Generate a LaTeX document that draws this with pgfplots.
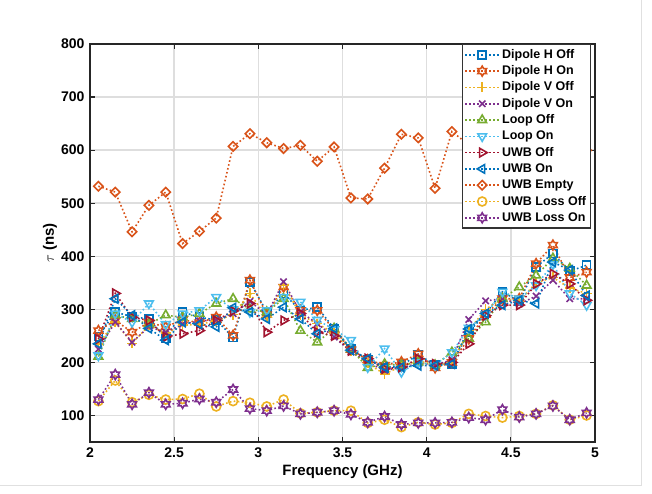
\documentclass[border=0pt]{standalone}
\usepackage{pgfplots}
\pgfplotsset{compat=1.18}
\usepackage{pgfplotstable}
\usepackage{fontspec}
\setmainfont{Liberation Sans}
\usetikzlibrary{plotmarks}

\definecolor{mblue}{HTML}{0072BD}
\definecolor{morange}{HTML}{D95319}
\definecolor{myellow}{HTML}{EDB120}
\definecolor{mpurple}{HTML}{7E2F8E}
\definecolor{mgreen}{HTML}{77AC30}
\definecolor{mcyan}{HTML}{4DBEEE}
\definecolor{mred}{HTML}{A2142F}

\pgfdeclareplotmark{hexagram}{%
  \pgfpathmoveto{\pgfpointpolar{90}{\pgfplotmarksize}}%
  \pgfpathlineto{\pgfpointpolar{120}{0.577\pgfplotmarksize}}%
  \pgfpathlineto{\pgfpointpolar{150}{\pgfplotmarksize}}%
  \pgfpathlineto{\pgfpointpolar{180}{0.577\pgfplotmarksize}}%
  \pgfpathlineto{\pgfpointpolar{210}{\pgfplotmarksize}}%
  \pgfpathlineto{\pgfpointpolar{240}{0.577\pgfplotmarksize}}%
  \pgfpathlineto{\pgfpointpolar{270}{\pgfplotmarksize}}%
  \pgfpathlineto{\pgfpointpolar{300}{0.577\pgfplotmarksize}}%
  \pgfpathlineto{\pgfpointpolar{330}{\pgfplotmarksize}}%
  \pgfpathlineto{\pgfpointpolar{0}{0.577\pgfplotmarksize}}%
  \pgfpathlineto{\pgfpointpolar{30}{\pgfplotmarksize}}%
  \pgfpathlineto{\pgfpointpolar{60}{0.577\pgfplotmarksize}}%
  \pgfpathclose
  \pgfusepathqstroke
}

\pgfplotstableread{
x    dhoff dhon dvoff dvon loff lon uoff uon uemp ulsoff ulson
2.05 249 260 235 225 211 213 244 235 532 127 130
2.15 295 279 276 276 289 292 330 320 521 166 177
2.25 286 257 236 238 282 276 285 289 446 125 121
2.35 282 275 270 267 272 311 279 264 496 139 143
2.45 245 267 255 257 289 272 248 242 521 130 121
2.55 295 280 270 272 285 292 254 276 424 131 123
2.65 285 275 272 278 292 298 260 272 447 141 131
2.75 280 285 278 280 311 323 279 267 472 117 125
2.85 247 251 290 292 320 300 297 303 607 127 149
2.95 352 355 330 315 300 295 311 295 631 124 113
3.05 295 290 285 290 295 298 257 282 614 117 109
3.15 330 342 346 352 320 323 279 304 603 130 118
3.25 298 298 290 295 260 314 292 282 609 104 103
3.35 304 298 273 273 238 280 257 254 579 106 106
3.45 264 262 255 248 264 262 250 264 606 109 109
3.55 226 224 222 220 225 242 222 223 510 109 102
3.65 205 205 198 200 190 191 207 207 508 86 87
3.75 190 195 178 185 197 226 188 191 566 92 98
3.85 195 201 193 190 195 182 191 191 630 78 83
3.95 214 216 203 198 200 200 207 194 623 87 86
4.05 196 190 195 195 195 195 197 194 528 83 86
4.15 197 200 200 205 219 219 200 197 635 86 87
4.25 257 245 260 281 245 265 235 263 610 103 96
4.35 292 290 300 316 276 290 288 292 640 99 92
4.45 333 320 320 320 320 333 308 308 600 96 111
4.55 315 320 315 310 342 320 308 317 620 99 97
4.65 380 386 350 325 364 345 348 311 595 103 103
4.75 405 421 360 355 396 385 367 389 630 119 118
4.85 372 360 340 320 377 330 348 374 610 92 92
4.95 383 370 330 320 345 308 317 326 600 100 105
}\data

\begin{document}
\begin{tikzpicture}
\useasboundingbox (-90pt,-51pt) rectangle (562pt,442pt);
\draw[black!12, line width=1pt] (551pt,442pt) -- (551pt,-43pt) -- (-90pt,-43pt);
\begin{axis}[
  at={(0pt,0pt)}, anchor=south west,
  scale only axis, width=505pt, height=398pt,
  xmin=2, xmax=5, ymin=50, ymax=800,
  xtick={2,2.5,3,3.5,4,4.5,5},
  xticklabels={2,2.5,3,3.5,4,4.5,5},
  ytick={100,200,300,400,500,600,700,800},
  tick align=inside, major tick length=5pt,
  tick style={line width=1.2pt, color=black!85},
  axis line style={line width=1.6pt, color=black!85},
  grid=major, major grid style={line width=1.5pt, color=black!13},
  /pgf/number format/assume math mode=true,
  tick label style={font=\bfseries\fontsize{14}{16}\selectfont},
  xticklabel style={yshift=-2pt},
  yticklabel style={xshift=-2pt},
  xlabel={Frequency (GHz)},
  ylabel={$\tau$ (ns)},
  label style={font=\bfseries\fontsize{15}{18}\selectfont},
  xlabel style={at={(axis description cs:0.5,-0.0754)}, anchor=center},
  ylabel style={at={(axis description cs:-0.079,0.5)}, anchor=center},
  every axis plot/.append style={line width=1.6pt, dash pattern=on 1.6pt off 2.4pt},
  legend style={at={(rel axis cs:0.992,1)}, anchor=north east,
    draw=black!80, line width=1.3pt, fill=white,
    font=\bfseries\fontsize{12.5}{15}\selectfont,
    row sep=0pt, inner xsep=2pt, inner ysep=2pt,
    nodes={text height=9.5pt, text depth=2.5pt, inner sep=2.15pt}},
  legend cell align=left,
  legend image code/.code={\draw[line width=1.6pt, dash pattern=on 1.6pt off 2.4pt, mark repeat=2,mark phase=2] plot coordinates {(0pt,0pt) (17pt,0pt) (34pt,0pt)};},
]
\addplot[mblue, mark=square, mark size=4pt, mark options={solid}] table[x=x,y=dhoff]{\data};
\addlegendentry{Dipole H Off}
\addplot[morange, mark=hexagram, mark size=5pt, mark options={solid}] table[x=x,y=dhon]{\data};
\addlegendentry{Dipole H On}
\addplot[myellow, mark=+, mark size=5pt, mark options={solid}] table[x=x,y=dvoff]{\data};
\addlegendentry{Dipole V Off}
\addplot[mpurple, mark=x, mark size=4.5pt, mark options={solid}] table[x=x,y=dvon]{\data};
\addlegendentry{Dipole V On}
\addplot[mgreen, mark=triangle, mark size=5pt, mark options={solid}] table[x=x,y=loff]{\data};
\addlegendentry{Loop Off}
\addplot[mcyan, mark=triangle, mark size=5pt, mark options={solid, rotate=180}] table[x=x,y=lon]{\data};
\addlegendentry{Loop On}
\addplot[mred, mark=triangle, mark size=5pt, mark options={solid, rotate=-90}] table[x=x,y=uoff]{\data};
\addlegendentry{UWB Off}
\addplot[mblue, mark=triangle, mark size=5pt, mark options={solid, rotate=90}] table[x=x,y=uon]{\data};
\addlegendentry{UWB On}
\addplot[morange, mark=square, mark size=3.3pt, mark options={solid, rotate=45}] table[x=x,y=uemp]{\data};
\addlegendentry{UWB Empty}
\addplot[myellow, mark=o, mark size=4.5pt, mark options={solid}] table[x=x,y=ulsoff]{\data};
\addlegendentry{UWB Loss Off}
\addplot[mpurple, mark=hexagram, mark size=5pt, mark options={solid}] table[x=x,y=ulson]{\data};
\addlegendentry{UWB Loss On}
\end{axis}
\end{tikzpicture}
\end{document}
